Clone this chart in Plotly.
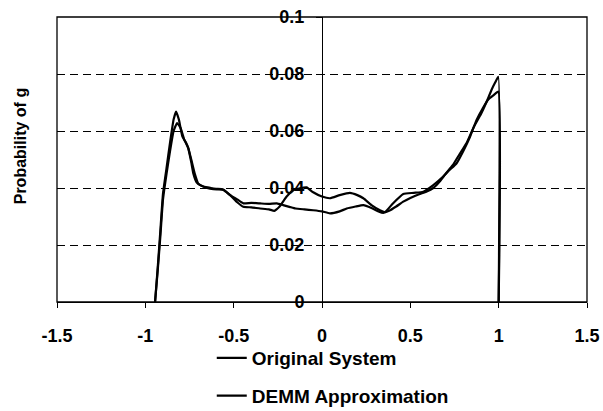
import plotly.graph_objects as go

# ---- data ----
orig_x = [-0.945, -0.93, -0.915, -0.90, -0.88, -0.86, -0.84, -0.826, -0.81, -0.79, -0.77, -0.757,
          -0.74, -0.728, -0.71, -0.69, -0.65, -0.615, -0.58, -0.558, -0.52, -0.48, -0.445, -0.40,
          -0.35, -0.30, -0.256, -0.22, -0.18, -0.15, -0.10, -0.05, 0.0, 0.045, 0.10, 0.14, 0.19,
          0.234, 0.28, 0.32, 0.347, 0.38, 0.42, 0.46, 0.50, 0.55, 0.59, 0.63, 0.67, 0.70, 0.74,
          0.78, 0.82, 0.86, 0.90, 0.93, 0.96, 0.98, 0.998, 1.0]
orig_y = [0, 0.012, 0.025, 0.038, 0.047, 0.056, 0.064, 0.0668, 0.064, 0.058, 0.056, 0.054,
          0.049, 0.045, 0.042, 0.041, 0.040, 0.0396, 0.0395, 0.0393, 0.0375, 0.036, 0.0346, 0.0348,
          0.0346, 0.0344, 0.0346, 0.034, 0.0333, 0.0328, 0.0325, 0.0322, 0.0318, 0.0311, 0.0318,
          0.0328, 0.0335, 0.034, 0.033, 0.0318, 0.0313, 0.032, 0.0335, 0.0352, 0.0365, 0.0378,
          0.0387, 0.040, 0.0425, 0.045, 0.048, 0.052, 0.056, 0.0615, 0.066, 0.070, 0.0745, 0.077,
          0.079, 0]

demm_x = [-0.945, -0.93, -0.915, -0.90, -0.88, -0.86, -0.84, -0.82, -0.80, -0.78, -0.757, -0.74,
          -0.72, -0.70, -0.67, -0.63, -0.60, -0.56, -0.52, -0.48, -0.445, -0.40, -0.35, -0.30,
          -0.27, -0.24, -0.20, -0.16, -0.125, -0.087, -0.05, 0.0, 0.045, 0.10, 0.158, 0.20, 0.234,
          0.28, 0.328, 0.357, 0.40, 0.46, 0.52, 0.573, 0.63, 0.686, 0.72, 0.762, 0.80, 0.838,
          0.875, 0.91, 0.94, 0.97, 0.998, 1.0]
demm_y = [0, 0.011, 0.023, 0.036, 0.045, 0.053, 0.060, 0.0628, 0.061, 0.057, 0.054, 0.050,
          0.045, 0.0415, 0.0405, 0.040, 0.0397, 0.0395, 0.0375, 0.035, 0.0334, 0.0332, 0.0328,
          0.0325, 0.032, 0.0335, 0.037, 0.0393, 0.0399, 0.0402, 0.0385, 0.037, 0.0364, 0.0375,
          0.0383, 0.0375, 0.0364, 0.034, 0.0322, 0.0316, 0.0345, 0.0379, 0.0383, 0.0387, 0.041,
          0.044, 0.0462, 0.0487, 0.053, 0.058, 0.0639, 0.068, 0.071, 0.0725, 0.0738, 0]

series_names = ["Original System", "DEMM Approximation"]
x_ticks = [-1.5, -1, -0.5, 0, 0.5, 1, 1.5]
x_tick_labels = ["-1.5", "-1", "-0.5", "0", "0.5", "1", "1.5"]
y_ticks = [0, 0.02, 0.04, 0.06, 0.08, 0.1]
y_tick_labels = ["0", "0.02", "0.04", "0.06", "0.08", "0.1"]
y_title = "Probability of g"

FONT = "Liberation Sans, Arial, sans-serif"

fig = go.Figure()
fig.add_trace(go.Scatter(x=orig_x, y=orig_y, mode="lines", name=series_names[0],
                         legendgroup="a",
                         line=dict(color="black", width=2.2, shape="spline", smoothing=0.4)))
fig.add_trace(go.Scatter(x=demm_x, y=demm_y, mode="lines", name=series_names[1],
                         legendgroup="b",
                         line=dict(color="black", width=2.2, shape="spline", smoothing=0.4)))

fig.update_layout(
    width=603, height=411,
    margin=dict(l=57, r=16, t=17, b=109, autoexpand=False),
    paper_bgcolor="white", plot_bgcolor="white",
    font=dict(family=FONT, color="black", size=18, weight="bold"),
    showlegend=True,
    legend=dict(x=0.292, y=-0.13, xanchor="left", yanchor="top",
                font=dict(size=19, family=FONT, weight="bold"),
                tracegroupgap=10, traceorder="grouped", bgcolor="rgba(0,0,0,0)"),
    xaxis=dict(range=[-1.5, 1.5], tickvals=x_ticks, ticktext=x_tick_labels,
               automargin=False,
               showgrid=False, zeroline=True, zerolinecolor="black", zerolinewidth=1,
               showline=True, linecolor="black", linewidth=1,
               ticks="outside", ticklen=5, tickcolor="black", ticklabelstandoff=12,
               tickfont=dict(size=18, family=FONT, weight="bold")),
    yaxis=dict(range=[0, 0.1], tickvals=y_ticks, ticktext=y_tick_labels,
               anchor="free", position=0.5, automargin=False,
               showgrid=True, gridcolor="black", griddash="8px,5px", gridwidth=1,
               zeroline=False, showline=True, linecolor="black", linewidth=1,
               ticks="outside", ticklen=6, tickcolor="black", ticklabelstandoff=8,
               tickfont=dict(size=18, family=FONT, weight="bold")),
    shapes=[dict(type="rect", xref="paper", yref="paper", x0=0, x1=1, y0=0, y1=1,
                 line=dict(color="black", width=1.3), fillcolor="rgba(0,0,0,0)", layer="above")],
    annotations=[dict(text=y_title, xref="paper", yref="paper", x=-0.070, y=0.546,
                      xanchor="center", yanchor="middle", textangle=-90, showarrow=False,
                      font=dict(size=16, family=FONT, weight="bold"))],
)

fig.write_html("out.html")
